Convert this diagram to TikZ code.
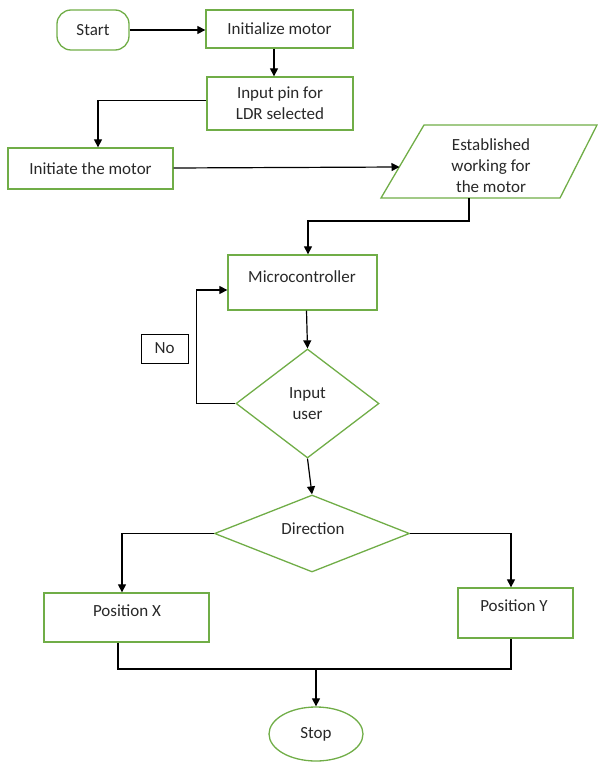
\documentclass[tikz,border=0pt]{standalone}
\usepackage{fontspec}
\setmainfont{Carlito}
\usetikzlibrary{shapes.geometric,arrows.meta}
\definecolor{ogreen}{RGB}{112,173,71}
\definecolor{txt}{RGB}{40,40,40}
\tikzset{
  gbox/.style={draw=ogreen, line width=1.3pt, rectangle, inner sep=0pt, text=txt, align=center, font=\fontsize{17}{21}\selectfont},
  gtext/.style={text=txt, align=center, inner sep=0pt, font=\fontsize{17}{21}\selectfont},
  gdiam/.style={draw=ogreen, line width=1.3pt, diamond, inner sep=0pt, text=txt, align=center, font=\fontsize{17}{21}\selectfont},
  arr/.style={line width=1.2pt, -{Triangle[length=8pt,width=8pt]}},
  ln/.style={line width=1.2pt},
}
\begin{document}
\begin{tikzpicture}[x=1pt,y=-1pt]
\useasboundingbox (0,0) rectangle (597,762);
% nodes
\node[gbox, rounded corners=14pt, minimum width=72pt, minimum height=40pt] (start) at (93,30) {Start};
\node[gbox, minimum width=147pt, minimum height=38pt] (init) at (279.5,29) {Initialize motor};
\node[gbox, minimum width=146pt, minimum height=53pt] (pin) at (280,103.5) {Input pin for\\LDR selected};
\node[gbox, minimum width=165pt, minimum height=41pt] (initm) at (90.5,168.5) {Initiate the motor};
% parallelogram
\draw[draw=ogreen, line width=1.3pt] (424,125) -- (597,125) -- (560,198) -- (381,198) -- cycle;
\node[gtext] (est) at (491,165.5) {Established\\working for\\the motor};
\coordinate (estL) at (399.5,167);
\coordinate (estB) at (469,198);
\node[gbox, minimum width=149pt, minimum height=55pt] (micro) at (302.5,282.5) {};
\node[gtext] (microT) at (302,277) {Microcontroller};
\node[draw=black, line width=1pt, minimum width=47pt, minimum height=29pt, inner sep=0pt, text=txt, font=\fontsize{17}{21}\selectfont] (no) at (164.5,348.5) {No};
\node[gdiam, minimum width=143pt, minimum height=109pt, aspect=1.31] (iu) at (307.5,403.5) {Input\\user};
\node[gdiam, minimum width=195pt, minimum height=77pt, aspect=2.53] (dir) at (312,533.5) {};
\node[gtext] (dirT) at (313,529) {Direction};
\node[gbox, minimum width=165pt, minimum height=49pt] (posx) at (126.5,617.5) {};
\node[gtext] (posxT) at (127,611) {Position X};
\node[gbox, minimum width=115pt, minimum height=50pt] (posy) at (515.5,613) {};
\node[gtext] (posyT) at (514,606) {Position Y};
\node[draw=ogreen, line width=1.3pt, ellipse, minimum width=94pt, minimum height=54pt, inner sep=0pt, text=txt, font=\fontsize{17}{21}\selectfont] (stop) at (316,734) {Stop};
\coordinate (jm) at (316,669);
% connectors
\draw[arr] (start.east) -- (start.east -| init.west);
\draw[arr] ([xshift=-5.5pt]init.south) -- ([xshift=-5.5pt]init.south |- pin.north);
\draw[arr] ([yshift=3pt]pin.west) -| ([xshift=7.5pt]initm.north);
\draw[arr] ([yshift=0.5pt]initm.east) -- (estL);
\draw[arr] (estB) -- ++(0,23) -| ([xshift=5.5pt]micro.north);
\draw[arr] ([xshift=4pt]micro.south) -- (iu.north);
\draw[arr] (iu.west) -- ++(-39,0) |- ([yshift=-7.5pt]micro.west);
\draw[arr] (iu.south) -- (dir.north);
\draw[arr] (dir.west) -| ([xshift=-4.5pt]posx.north);
\draw[arr] (dir.east) -| ([xshift=-4.5pt]posy.north);
\draw[ln] ([xshift=-8.5pt]posx.south) |- (jm) -| ([xshift=-4.5pt]posy.south);
\draw[arr] (jm) -- (stop.north);
\end{tikzpicture}
\end{document}
